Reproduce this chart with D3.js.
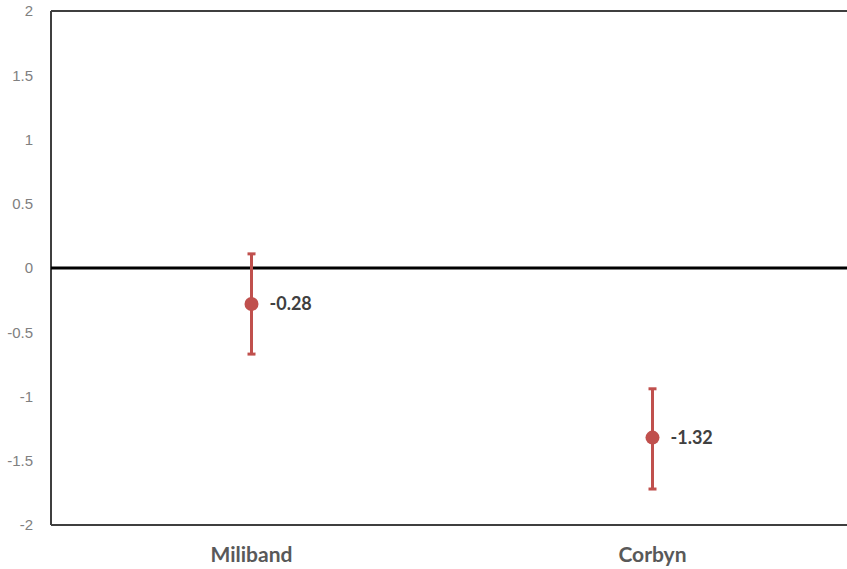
<!DOCTYPE html>
<html>
<head>
<meta charset="utf-8">
<script src="https://cdn.jsdelivr.net/npm/d3@7"></script>
<style>
  html, body { margin: 0; padding: 0; background: #fff; }
  svg { display: block; font-family: Lato, "Open Sans", sans-serif; }
</style>
</head>
<body>
<svg id="chart" width="847" height="569"></svg>
<script>
// Leaders and their estimated effect with confidence bounds
const leaders = ["Miliband", "Corbyn"];
const estimates = [-0.28, -1.32];
const upperBounds = [0.11, -0.94];
const lowerBounds = [-0.67, -1.72];
const yTicks = [-2, -1.5, -1, -0.5, 0, 0.5, 1, 1.5, 2];

const svg = d3.select("#chart");
const margin = { left: 51, top: 11, right: -6, bottom: 44 };
const width = 847 - margin.left - margin.right;
const height = 569 - margin.top - margin.bottom;

const g = svg.append("g").attr("transform", `translate(${margin.left},${margin.top})`);

const x = d3.scaleBand().domain(leaders).range([0, width]);
const y = d3.scaleLinear().domain([-2, 2]).range([height, 0]);

// Frame: left, top and bottom edges
const frame = "#3f3f3f";
g.append("line").attr("x1", 0).attr("x2", 0).attr("y1", y(2)).attr("y2", y(-2))
  .attr("stroke", frame).attr("stroke-width", 2);
g.append("line").attr("x1", 0).attr("x2", width).attr("y1", y(2)).attr("y2", y(2))
  .attr("stroke", frame).attr("stroke-width", 2);
g.append("line").attr("x1", 0).attr("x2", width).attr("y1", y(-2)).attr("y2", y(-2))
  .attr("stroke", frame).attr("stroke-width", 2);

// Y axis labels
const yAxis = d3.axisLeft(y).tickValues(yTicks).tickSize(0).tickPadding(18)
  .tickFormat(d => String(d));
const ya = g.append("g").call(yAxis);
ya.select(".domain").remove();
ya.selectAll("text").attr("fill", "#808080").style("font-size", "15px");

// Zero reference line
g.append("line").attr("x1", 0).attr("x2", width).attr("y1", y(0)).attr("y2", y(0))
  .attr("stroke", "#000").attr("stroke-width", 3);

// Category labels
g.selectAll(".cat").data(leaders).enter().append("text")
  .attr("class", "cat")
  .attr("x", d => x(d) + x.bandwidth() / 2)
  .attr("y", height + 30)
  .attr("dy", "0.35em")
  .attr("text-anchor", "middle")
  .attr("fill", "#595959")
  .style("font-size", "21px").style("font-weight", "bold")
  .text(d => d);

const red = "#c0504d";
const data = leaders.map((name, i) => ({
  name, est: estimates[i], hi: upperBounds[i], lo: lowerBounds[i]
}));
const cx = d => x(d.name) + x.bandwidth() / 2;

const pts = g.selectAll(".pt").data(data).enter().append("g").attr("class", "pt");
pts.append("line")
  .attr("x1", cx).attr("x2", cx)
  .attr("y1", d => y(d.hi)).attr("y2", d => y(d.lo))
  .attr("stroke", red).attr("stroke-width", 3);
pts.append("line")
  .attr("x1", d => cx(d) - 4).attr("x2", d => cx(d) + 4)
  .attr("y1", d => y(d.hi)).attr("y2", d => y(d.hi))
  .attr("stroke", red).attr("stroke-width", 3);
pts.append("line")
  .attr("x1", d => cx(d) - 4).attr("x2", d => cx(d) + 4)
  .attr("y1", d => y(d.lo)).attr("y2", d => y(d.lo))
  .attr("stroke", red).attr("stroke-width", 3);
pts.append("circle")
  .attr("cx", cx).attr("cy", d => y(d.est)).attr("r", 7)
  .attr("fill", red);
pts.append("text")
  .attr("x", d => cx(d) + 18)
  .attr("y", d => y(d.est))
  .attr("dy", "0.35em")
  .attr("fill", "#404040")
  .style("font-size", "18px").style("font-weight", "bold")
  .text(d => d3.format(".2f")(d.est).replace("−", "-"));
</script>
</body>
</html>
